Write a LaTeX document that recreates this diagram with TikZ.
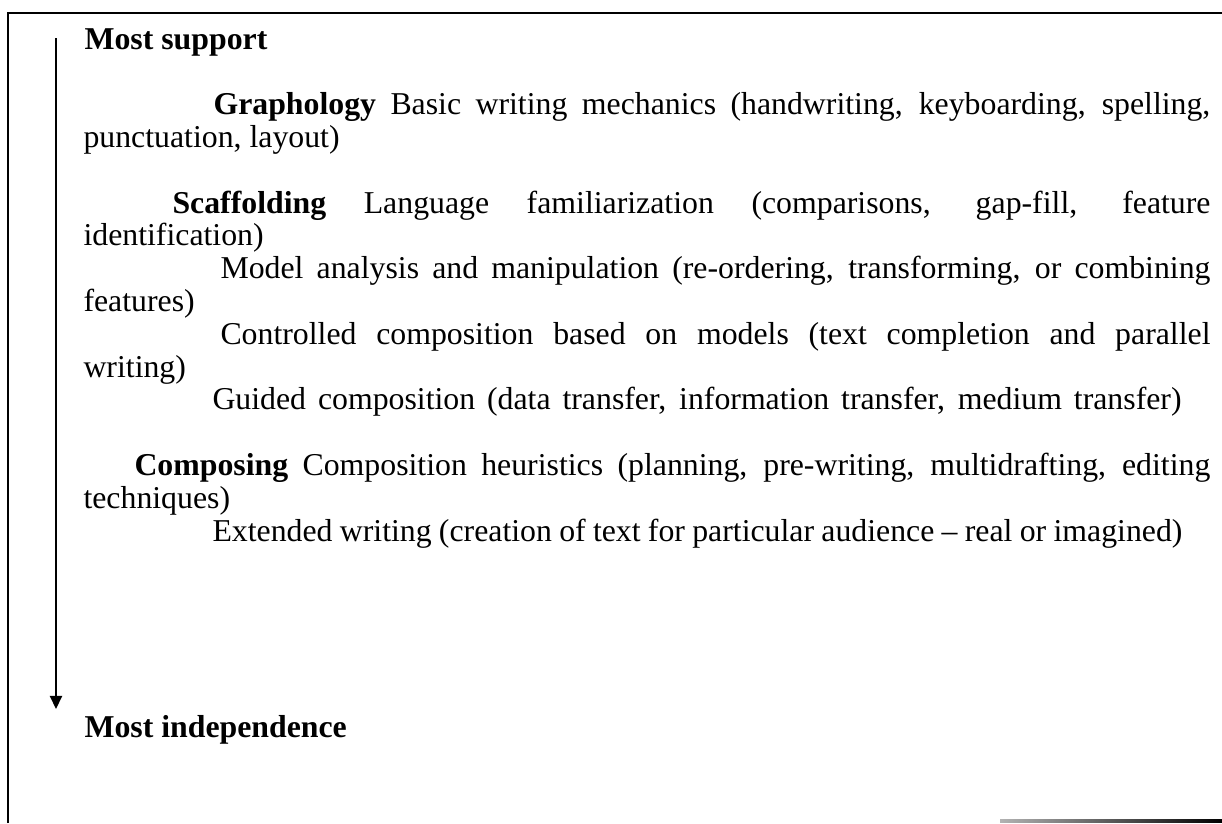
\documentclass[tikz,border=0pt]{standalone}
\usepackage{fontspec}
\setmainfont{Liberation Serif}
\usetikzlibrary{arrows.meta}
\begin{document}
\begin{tikzpicture}[x=0.3774pt,y=-0.3774pt,
  txt/.style={anchor=base west, inner sep=0pt, font=\fontsize{12}{12.45}\selectfont},
  head/.style={anchor=base west, inner sep=0pt, font=\fontsize{12}{12.45}\selectfont\bfseries},
  frame/.style={line width=0.8pt},
  scale arrow/.style={line width=0.8pt, -{Triangle[length=5pt,width=4.6pt]}}]
\useasboundingbox (0,0) rectangle (1222,823);

% outer frame (top and left edges) and the faded bottom rule
\draw[frame] (8,823) -- (8,13) -- (1222,13);
\shade[left color=black!30, right color=black] (1000,819.5) rectangle (1222,822);

% headings at both ends of the scale
\node[head] (support) at (84,49) {Most support};
\node[head] (indep) at (84,737.8) {Most independence};

% vertical arrow from support to independence
\coordinate (atop) at (56,38);
\coordinate (abot) at (56,709);
\draw[scale arrow] (atop) -- (abot);

% Graphology
\node[txt] (g1) at (213,114.6) {\makebox[376.2pt][s]{\textbf{Graphology} Basic writing mechanics (handwriting, keyboarding, spelling,}};
\node[txt] (g2) at (83,147.4) {punctuation, layout)};

% Scaffolding
\node[txt] (s1) at (172,213) {\makebox[391.7pt][s]{\textbf{Scaffolding} Language familiarization (comparisons, gap-fill, feature}};
\node[txt] (s2) at (83,245.8) {identification)};
\node[txt] (s3) at (220,278.6) {\makebox[373.6pt][s]{Model analysis and manipulation (re-ordering, transforming, or combining}};
\node[txt] (s4) at (83,311.4) {features)};
\node[txt] (s5) at (220,344.2) {\makebox[373.6pt][s]{Controlled composition based on models (text completion and parallel}};
\node[txt] (s6) at (83,377) {writing)};
\node[txt] (s7) at (212,409.8) {\makebox[365.7pt][s]{Guided composition (data transfer, information transfer, medium transfer)}};

% Composing
\node[txt] (c1) at (134,475.4) {\makebox[406.0pt][s]{\textbf{Composing} Composition heuristics (planning, pre-writing, multidrafting, editing}};
\node[txt] (c2) at (83,508.2) {techniques)};
\node[txt] (c3) at (212,541) {\makebox[366pt][s]{Extended writing (creation of text for particular audience -- real or imagined)}};
\end{tikzpicture}
\end{document}
